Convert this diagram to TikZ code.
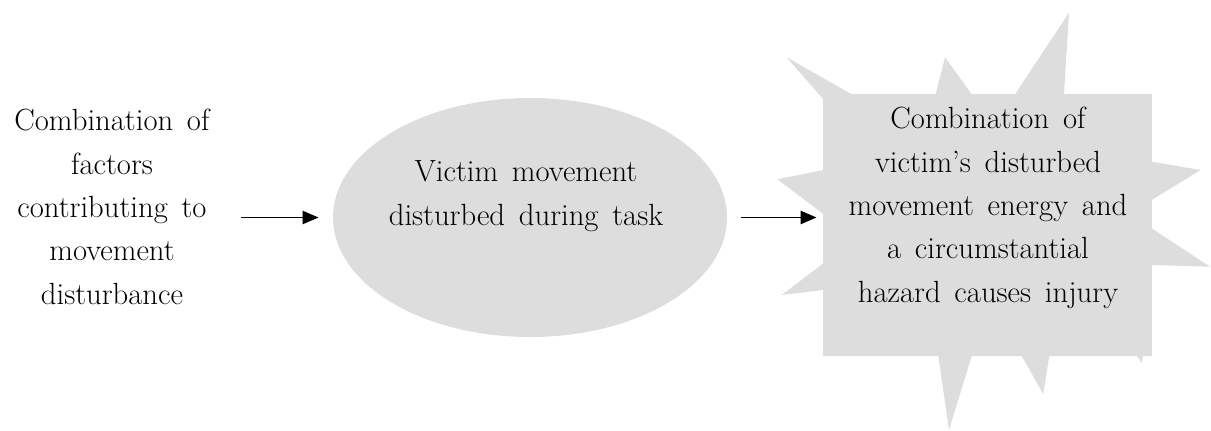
\documentclass[tikz,border=0pt]{standalone}
\usepackage{fontspec}
\usetikzlibrary{arrows.meta,shapes.geometric}
\definecolor{blobgray}{RGB}{221,221,221}
\newcommand\lblfont{\rmfamily\fontsize{23}{32.6}\selectfont\spaceskip 0.45em\relax}
\tikzset{every picture/.style={line width=0.75pt}}
\tikzset{
  lbl/.style={align=center, inner sep=0pt, font=\lblfont},
  blob/.style={fill=blobgray, draw=none, inner sep=0pt},
  flow/.style={draw=black, line width=1.2pt, -{Triangle[length=12pt,width=10pt]}}
}

\begin{document}
\begin{tikzpicture}[x=0.75pt,y=0.75pt,yscale=-1,xscale=1]
\useasboundingbox (0,0) rectangle (1211,430);
%Text: factors
\node[lbl, anchor=north] (factors) at (112,108.5) {Combination of\\factors\\contributing to\\movement\\disturbance};
%Shape: Ellipse
\node[blob, ellipse, minimum width=295.5pt, minimum height=179.25pt] (disturb) at (530,217.5) {};
\node[lbl, anchor=north] (disturbtxt) at (526,160.5) {Victim movement\\disturbed during task};
%Shape: Explosion
\fill[blobgray] (786.7,57.3) -- (851.7,94.3) -- (935.7,94.3) -- (945,57.3) -- (971.7,94.3) -- (1015,94.3) -- (1069,12.7) -- (1064,94.3) -- (1151.7,94.3) -- (1151.7,161.7) -- (1200.7,170) -- (1151.7,200) -- (1151.7,228.3) -- (1210,266.7) -- (1151.7,265) -- (1151.7,356) -- (1143,356) -- (1141.7,362.7) -- (1136.7,356) -- (1049.3,356) -- (1043.3,394) -- (1021.7,356) -- (971.7,356) -- (949,430) -- (938.3,356) -- (823.3,356) -- (823.3,290) -- (781.7,295) -- (823.3,263.3) -- (823.3,214) -- (777.3,179.3) -- (823.3,170) -- (823.3,99.3) -- cycle ;
\node[blob, rectangle, minimum width=246.3pt, minimum height=196.3pt] (hazard) at (987.5,225.2) {};
\node[lbl, anchor=north] (hazardtxt) at (988,106.5) {Combination of\\victim’s disturbed\\movement energy and\\a circumstantial\\hazard causes injury};
%Straight Lines
\draw[flow, shorten <=23.25pt, shorten >=10.5pt] (factors.east |- disturb.west) -- (disturb.west);
%Straight Lines
\draw[flow, shorten <=9.75pt, shorten >=4.7pt] (disturb.east) -- (disturb.east -| hazard.west);
\end{tikzpicture}
\end{document}
